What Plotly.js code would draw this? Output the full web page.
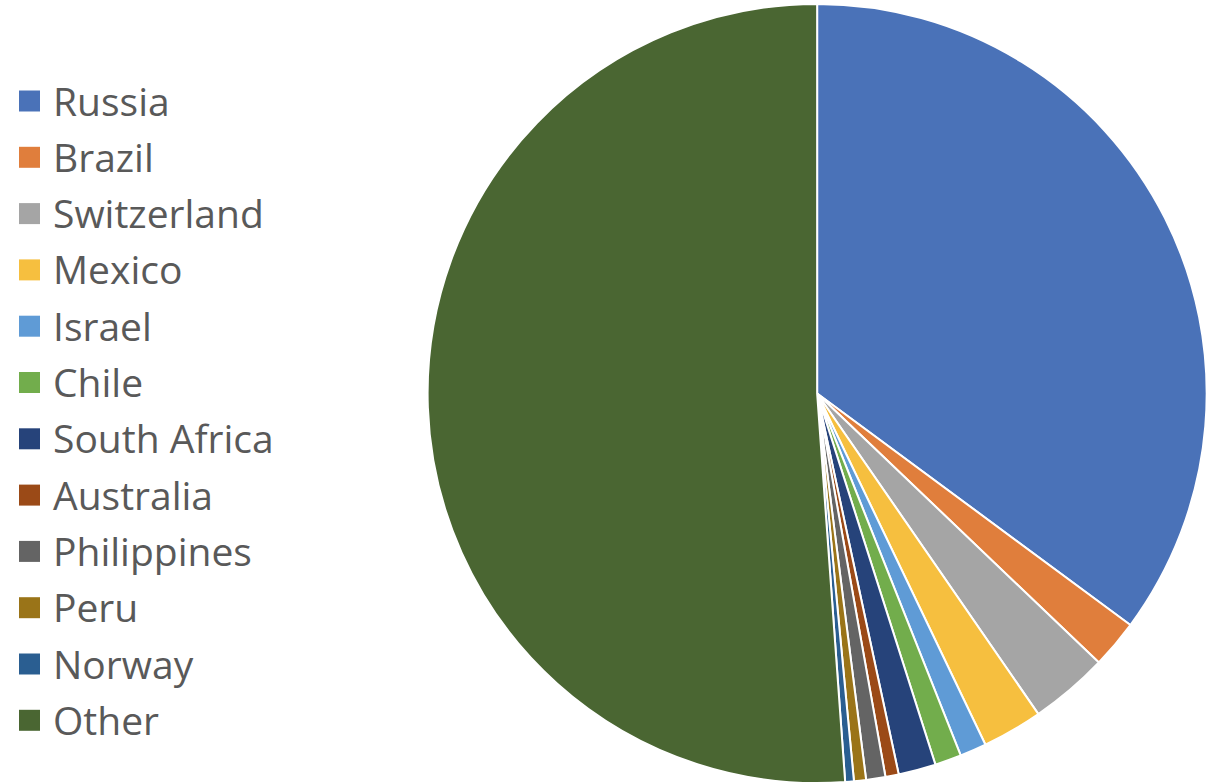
<!DOCTYPE html>
<html>
<head>
<meta charset="utf-8">
<script src="https://cdn.plot.ly/plotly-3.0.1.min.js"></script>
<style>html,body{margin:0;padding:0;background:#fff;}#chart{width:1207px;height:783px;}</style>
</head>
<body>
<div id="chart"></div>
<script>
const countries = ["Russia","Brazil","Switzerland","Mexico","Israel","Chile","South Africa","Australia","Philippines","Peru","Norway","Other"];
const shares = [35.1, 2.0, 3.25, 2.5, 1.1, 1.1, 1.55, 0.55, 0.8, 0.5, 0.36, 51.1];
const colors = ["#4a72b8","#e07e3c","#a5a5a5","#f6bf3f","#5f9bd6","#72ad4c","#26437a","#9b4a17","#646464","#9a7418","#2a5e91","#4a6632"];

const W = 1207, H = 783;
const legendTop = 101, legendStep = 56.3, sw = 21, swX = 19, textX = 51;
const shapes = [], annotations = [];
countries.forEach((c, i) => {
  const cy = legendTop + i * legendStep;
  shapes.push({type:"rect", xref:"paper", yref:"paper",
    x0: swX / W, x1: (swX + sw) / W, y0: 1 - (cy + sw/2) / H, y1: 1 - (cy - sw/2) / H,
    fillcolor: colors[i], line: {width: 0}});
  annotations.push({xref:"paper", yref:"paper", x: textX / W, y: 1 - (cy - 1) / H,
    xanchor:"left", yanchor:"middle", showarrow:false, text: c,
    font:{family:"Open Sans, Noto Sans, sans-serif", size:39, color:"#595959"}});
});

const data = [{
  type: "pie", labels: countries, values: shares, sort: false,
  direction: "clockwise", rotation: 0,
  marker: {colors: colors, line: {color: "#ffffff", width: 2}},
  textinfo: "none", hoverinfo: "label+percent",
  domain: {x: [0.354, 1], y: [0, 0.995]}, showlegend: false
}];
const layout = {
  width: W, height: H, margin: {l:0, r:0, t:0, b:0},
  paper_bgcolor: "#ffffff", showlegend: false,
  shapes: shapes, annotations: annotations
};
Plotly.newPlot("chart", data, layout, {displayModeBar: false, staticPlot: true});
</script>
</body>
</html>
